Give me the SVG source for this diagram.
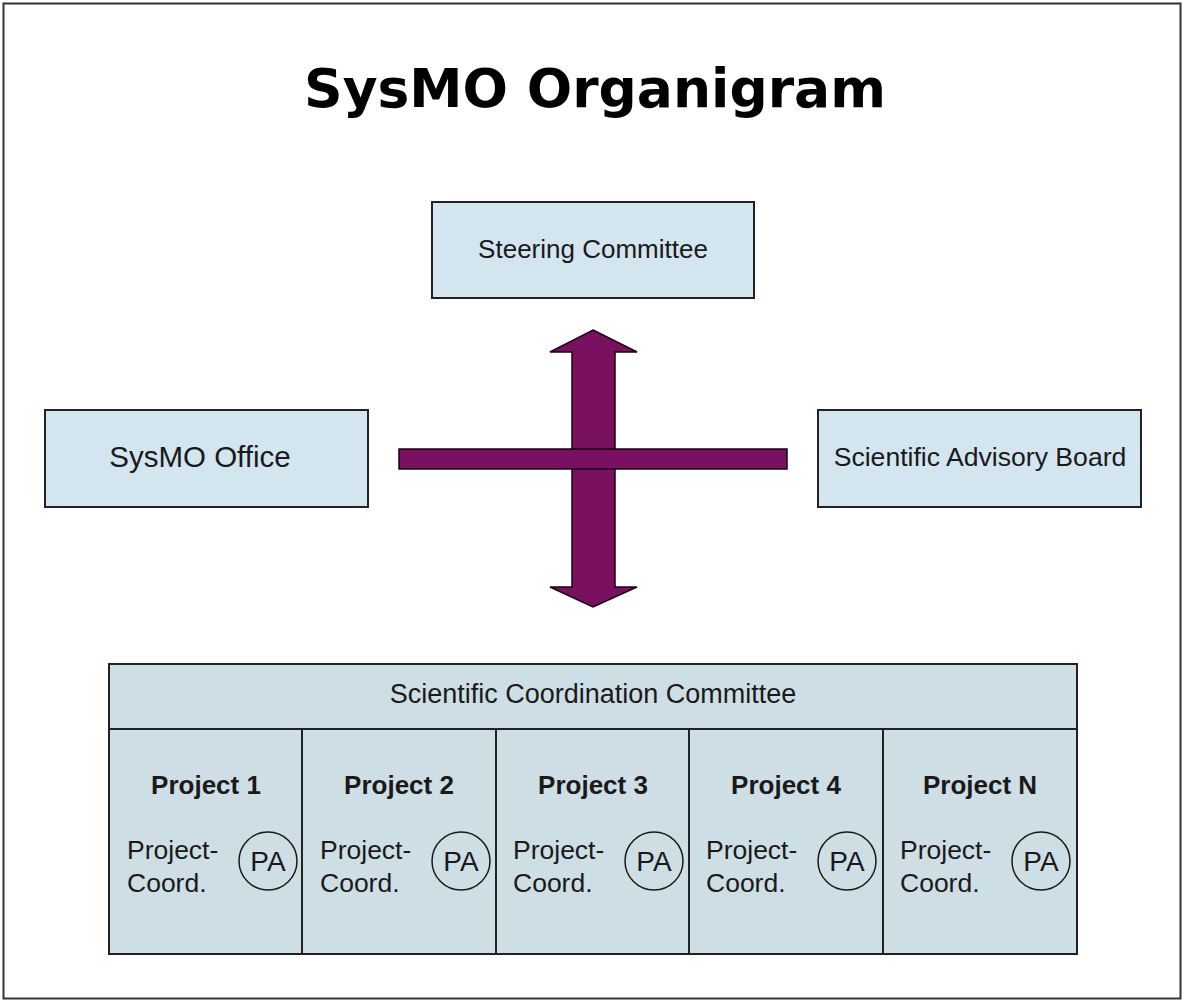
<svg xmlns="http://www.w3.org/2000/svg" width="1183" height="1001" viewBox="0 0 1183 1001">
<style>
.box{fill:#d3e5ef;stroke:#222;stroke-width:2}
.tbl{fill:#cddee5;stroke:#222;stroke-width:2}
.t{font-family:"Liberation Sans",Arial,sans-serif;fill:#1a1a1a}
.c{text-anchor:middle}
.b{font-weight:bold}
.arr{fill:#7a1060;stroke:#1a0010;stroke-width:1.5}
.pa{fill:none;stroke:#1a1a1a;stroke-width:1.5}
</style>
<rect x="0" y="0" width="1183" height="1001" fill="#fff"/>
<rect x="3.5" y="3.5" width="1177" height="995" fill="none" stroke="#333" stroke-width="2"/>
<text x="595" y="107" text-anchor="middle" font-family="'DejaVu Sans',Verdana,sans-serif" font-weight="bold" font-size="53.5" fill="#000">SysMO Organigram</text>

<g id="steering">
<rect class="box" x="432" y="202" width="322" height="96"/>
<text class="t c" x="593" y="258" font-size="26">Steering Committee</text>
</g>
<g id="office">
<rect class="box" x="45" y="410" width="323" height="97"/>
<text class="t c" x="200" y="467" font-size="29.5">SysMO Office</text>
</g>
<g id="advisory">
<rect class="box" x="818" y="410" width="323" height="97"/>
<text class="t c" x="980" y="466" font-size="26.6">Scientific Advisory Board</text>
</g>

<g id="connectors">
<polygon class="arr" points="593,330 637,352 615,352 615,587 637,587 593,607 550,587 572,587 572,352 550,352"/>
<rect class="arr" x="399" y="449" width="388" height="20"/>
</g>

<g id="scc">
<rect class="tbl" x="109" y="664" width="968" height="290"/>
<line x1="109" y1="729" x2="1077" y2="729" stroke="#222" stroke-width="2"/>
<text class="t c" x="593" y="703" font-size="27">Scientific Coordination Committee</text>
<g stroke="#222" stroke-width="2">
<line x1="302" y1="729" x2="302" y2="954"/>
<line x1="496" y1="729" x2="496" y2="954"/>
<line x1="689" y1="729" x2="689" y2="954"/>
<line x1="883" y1="729" x2="883" y2="954"/>
</g>
</g>

<g id="project1">
<text class="t c b" x="206" y="794" font-size="26">Project 1</text>
<text class="t" x="127" y="859" font-size="26.5">Project-</text>
<text class="t" x="127" y="892" font-size="26.5">Coord.</text>
<circle class="pa" cx="268" cy="861" r="29"/>
<text class="t c" x="268" y="871" font-size="28">PA</text>
</g>
<g id="project2">
<text class="t c b" x="399" y="794" font-size="26">Project 2</text>
<text class="t" x="320" y="859" font-size="26.5">Project-</text>
<text class="t" x="320" y="892" font-size="26.5">Coord.</text>
<circle class="pa" cx="461" cy="861" r="29"/>
<text class="t c" x="461" y="871" font-size="28">PA</text>
</g>
<g id="project3">
<text class="t c b" x="593" y="794" font-size="26">Project 3</text>
<text class="t" x="513" y="859" font-size="26.5">Project-</text>
<text class="t" x="513" y="892" font-size="26.5">Coord.</text>
<circle class="pa" cx="654" cy="861" r="29"/>
<text class="t c" x="654" y="871" font-size="28">PA</text>
</g>
<g id="project4">
<text class="t c b" x="786" y="794" font-size="26">Project 4</text>
<text class="t" x="706" y="859" font-size="26.5">Project-</text>
<text class="t" x="706" y="892" font-size="26.5">Coord.</text>
<circle class="pa" cx="847" cy="861" r="29"/>
<text class="t c" x="847" y="871" font-size="28">PA</text>
</g>
<g id="projectN">
<text class="t c b" x="980" y="794" font-size="26">Project N</text>
<text class="t" x="900" y="859" font-size="26.5">Project-</text>
<text class="t" x="900" y="892" font-size="26.5">Coord.</text>
<circle class="pa" cx="1041" cy="861" r="29"/>
<text class="t c" x="1041" y="871" font-size="28">PA</text>
</g>
</svg>
